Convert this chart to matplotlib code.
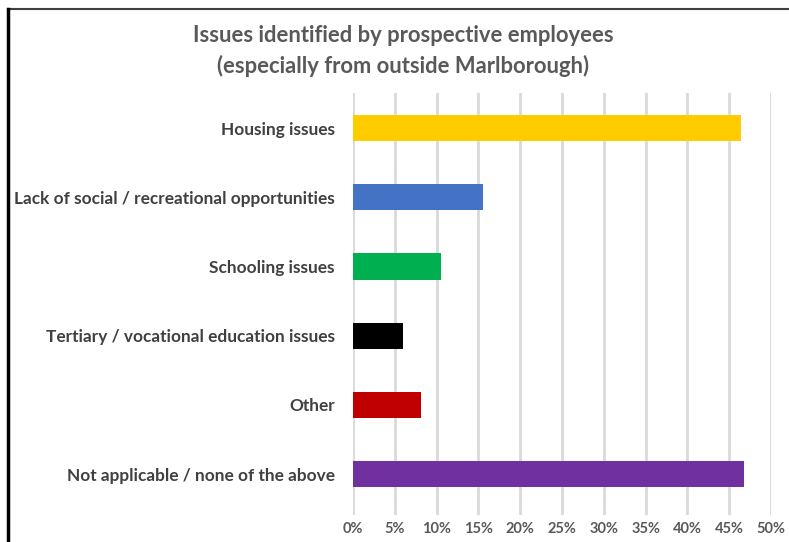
import matplotlib.pyplot as plt
from matplotlib.lines import Line2D

categories = ['Housing issues',
              'Lack of social / recreational opportunities',
              'Schooling issues',
              'Tertiary / vocational education issues',
              'Other',
              'Not applicable / none of the above']
values = [46.4, 15.6, 10.5, 6.0, 8.1, 46.8]
colors = ['#FFCC00', '#4472C4', '#00B050', '#000000', '#C00000', '#7030A0']
xticks = list(range(0, 55, 5))

plt.rcParams['font.family'] = ['Lato', 'DejaVu Sans']

W, H = 789, 542
fig = plt.figure(figsize=(W / 100, H / 100), dpi=100)
ax = fig.add_axes([353 / W, 1 - 515 / H, (771 - 353) / W, (515 - 93) / H])

ypos = list(range(len(categories)))
ax.barh(ypos, values, height=0.38, color=colors, zorder=3)
ax.set_ylim(5.59, -0.506)
ax.set_xlim(0, 50)
ax.set_xticks(xticks)
ax.set_xticklabels([f'{t}%' for t in xticks], fontsize=10.5, fontweight='bold', color='#595959')
ax.set_yticks(ypos)
ax.set_yticklabels(categories, fontsize=12.4, fontweight='bold', color='#404040')
ax.tick_params(length=0)
ax.tick_params(axis='x', pad=5)
ax.tick_params(axis='y', pad=13)
ax.grid(axis='x', color='#D9D9D9', linewidth=2, zorder=0)
for s in ax.spines.values():
    s.set_visible(False)

fig.text(403 / W, 1 - 36 / H, 'Issues identified by prospective employees',
         ha='center', va='center', fontsize=15.8, fontweight='bold', color='#595959')
fig.text(403 / W, 1 - 66 / H, '(especially from outside Marlborough)',
         ha='center', va='center', fontsize=15.8, fontweight='bold', color='#595959')

# outer frame (top and left edge of the original chart box)
fig.add_artist(Line2D([8 / W, 1], [1 - 9 / H, 1 - 9 / H], color='#404040', linewidth=1.5))
fig.add_artist(Line2D([8 / W, 8 / W], [0, 1 - 9 / H], color='#000000', linewidth=2.5))

fig.savefig('out.png', dpi=100)
